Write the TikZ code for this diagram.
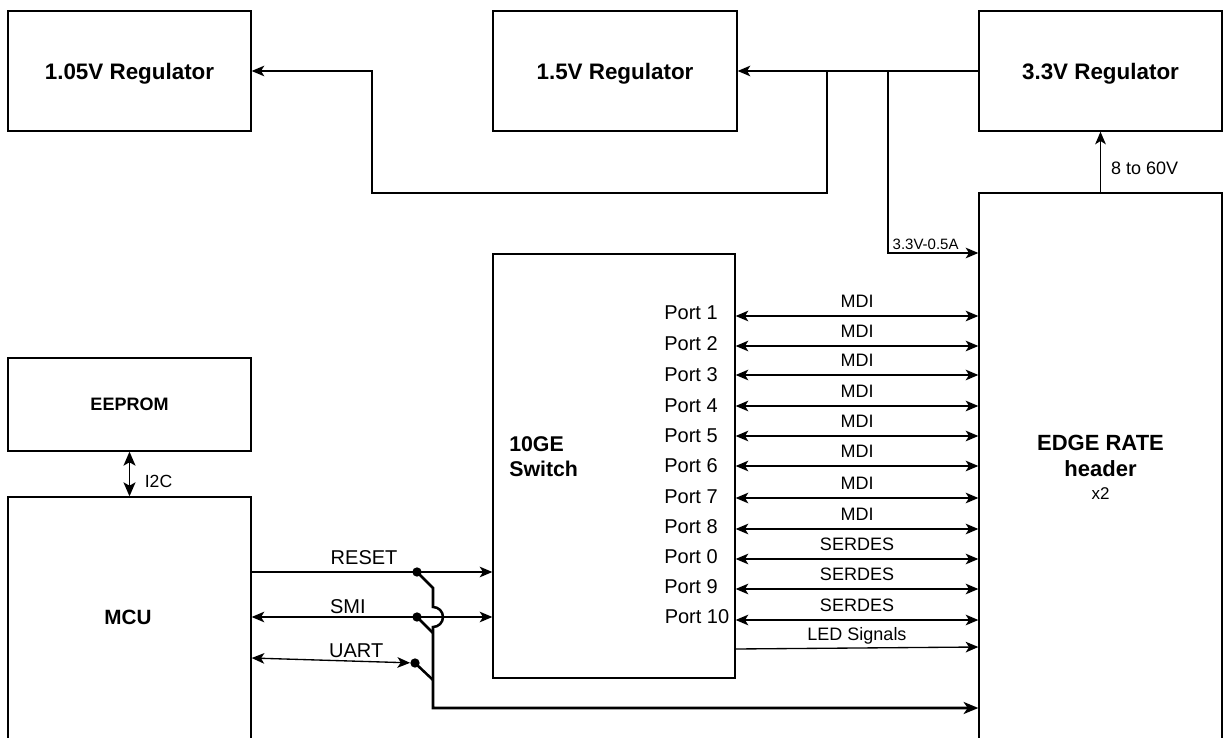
\documentclass[tikz,border=0pt]{standalone}
\usepackage{fontspec}
\setmainfont{Liberation Sans}
\usetikzlibrary{arrows.meta}
\begin{document}
\begin{tikzpicture}[x=0.75pt,y=-0.75pt,
  box/.style={draw, line width=1pt, inner sep=0pt},
  ttl/.style={font=\bfseries\fontsize{16.8}{20}\selectfont, text depth=0pt},
  conn/.style={line width=1pt},
  tip/.style={-{Stealth[length=9.5pt,width=8pt,inset=2.5pt]}},
  dtip/.style={{Stealth[length=9.5pt,width=8pt,inset=2.5pt]}-{Stealth[length=9.5pt,width=8pt,inset=2.5pt]}},
  port/.style={font=\fontsize{15}{18}\selectfont, inner sep=0pt},
  sig/.style={font=\fontsize{13.5}{16}\selectfont, anchor=base, inner sep=0pt, yshift=6.5pt},
  msig/.style={font=\fontsize{15}{18}\selectfont, anchor=base, inner sep=0pt},
  dot/.style={circle, fill, inner sep=0pt, minimum size=7pt},
  bus/.style={line width=1.9pt},
]
\useasboundingbox (0,0) rectangle (1225,738);
\fill[white] (0,0) rectangle (1225,738);

% boxes
\node[box, ttl, minimum width=182.25pt, minimum height=90pt] (r105) at (129.5,71) {1.05V Regulator};
\node[box, ttl, minimum width=183pt, minimum height=90pt] (r15) at (615,71) {1.5V Regulator};
\node[box, ttl, minimum width=182.25pt, minimum height=90pt] (r33) at (1100.5,71) {3.3V Regulator};
\node[box, minimum width=182.25pt, minimum height=411pt] (hdr) at (1100.5,467) {};
\node[box, minimum width=181.5pt, minimum height=318pt] (sw) at (614,466) {};
\node[box, font=\bfseries\fontsize{13.5}{16}\selectfont, text depth=0pt, minimum width=182.25pt, minimum height=69.75pt] (eep) at (129.5,404.5) {EEPROM};
\node[box, minimum width=182.25pt, minimum height=197.25pt] (mcu) at (129.5,628.5) {};

% box texts
\node[font=\bfseries\fontsize{16}{18.75}\selectfont, anchor=west, align=left, inner sep=0pt] (swt) at (509,457) {10GE\\Switch};
\node[font=\bfseries\fontsize{15.5}{18}\selectfont, inner sep=0pt] (mcut) at (128,617) {MCU};
\node[font=\bfseries\fontsize{16.5}{19.5}\selectfont, align=center, inner sep=0pt] (hdrt) at (1100.5,467) {EDGE RATE\\header\\[-2.25pt]{\mdseries\fontsize{12.75}{15}\selectfont x2}};

% power connections
\coordinate (jA) at (827,71);
\coordinate (jB) at (888,71);
\coordinate (lowL) at (372,193);
\coordinate (y0) at (0,253);
\draw[conn, tip] (r33.west) -- (r15.east);
\draw[conn, tip] (jA) |- (lowL) |- (r105.east);
\draw[conn, tip] (jB) |- (hdr.west |- y0)
  node[pos=0.5, anchor=base west, inner sep=0pt, xshift=3pt, yshift=3pt, font=\fontsize{11.25}{13}\selectfont] {3.3V-0.5A};
\draw[conn, tip] (hdr.north) -- (r33.south)
  node[pos=0.29, anchor=base west, inner sep=0pt, xshift=7.5pt, font=\fontsize{13.5}{16}\selectfont] {8 to 60V};

% I2C
\draw[conn, {Stealth[length=10.5pt,width=9pt,inset=2.5pt]}-{Stealth[length=10.5pt,width=9pt,inset=2.5pt]}] (eep.south) -- (mcu.north)
  node[pos=0.67, anchor=west, inner sep=0pt, xshift=11pt, font=\fontsize{13.2}{16}\selectfont] {I2C};

% ports
\node[port] (p1) at (691,313) {Port 1};
\node[port] (p2) at (691,344) {Port 2};
\node[port] (p3) at (691,375) {Port 3};
\node[port] (p4) at (691,406) {Port 4};
\node[port] (p5) at (691,436) {Port 5};
\node[port] (p6) at (691,466) {Port 6};
\node[port] (p7) at (691,497) {Port 7};
\node[port] (p8) at (691,527) {Port 8};
\node[port] (p0) at (691,557) {Port 0};
\node[port] (p9) at (691,587) {Port 9};
\node[port] (p10) at (697,617) {Port 10};

\coordinate (y1) at (0,316);
\coordinate (y2) at (0,346);
\coordinate (y3) at (0,375);
\coordinate (y4) at (0,406);
\coordinate (y5) at (0,436);
\coordinate (y6) at (0,466);
\coordinate (y7) at (0,498);
\coordinate (y8) at (0,529);
\coordinate (y9) at (0,559);
\coordinate (y10) at (0,589);
\coordinate (y11) at (0,620);
\coordinate (yLa) at (0,649);
\coordinate (yLb) at (0,647);

\draw[conn, dtip] (sw.east |- y1) -- (hdr.west |- y1) node[sig, midway] {MDI};
\draw[conn, dtip] (sw.east |- y2) -- (hdr.west |- y2) node[sig, midway] {MDI};
\draw[conn, dtip] (sw.east |- y3) -- (hdr.west |- y3) node[sig, midway] {MDI};
\draw[conn, dtip] (sw.east |- y4) -- (hdr.west |- y4) node[sig, midway] {MDI};
\draw[conn, dtip] (sw.east |- y5) -- (hdr.west |- y5) node[sig, midway] {MDI};
\draw[conn, dtip] (sw.east |- y6) -- (hdr.west |- y6) node[sig, midway] {MDI};
\draw[conn, dtip] (sw.east |- y7) -- (hdr.west |- y7) node[sig, midway] {MDI};
\draw[conn, dtip] (sw.east |- y8) -- (hdr.west |- y8) node[sig, midway] {MDI};
\draw[conn, dtip] (sw.east |- y9) -- (hdr.west |- y9) node[sig, midway] {SERDES};
\draw[conn, dtip] (sw.east |- y10) -- (hdr.west |- y10) node[sig, midway] {SERDES};
\draw[conn, dtip] (sw.east |- y11) -- (hdr.west |- y11) node[sig, midway] {SERDES};
\draw[conn, tip] (sw.east |- yLa) -- (hdr.west |- yLb) node[sig, midway, yshift=-1pt] {LED Signals};

% MCU signals
\coordinate (yR) at (0,572);
\coordinate (yS) at (0,617);
\coordinate (yU) at (0,658);
\node[dot] (dR) at (417,572) {};
\node[dot] (dS) at (417,617) {};
\node[dot] (dU) at (415,663) {};
\draw[conn, tip] (mcu.east |- yR) -- (sw.west |- yR) node[msig, pos=0.467, yshift=6pt] {RESET};
\draw[conn, dtip] (mcu.east |- yS) -- (sw.west |- yS) node[msig, pos=0.40, yshift=3pt] {SMI};
\draw[conn, dtip] (mcu.east |- yU) -- (dU) node[msig, pos=0.66, yshift=2.5pt] {UART};

% switch bus
\coordinate (b1) at (433,588);
\coordinate (b2) at (433,607);
\coordinate (b3) at (433,708);
\coordinate (bS) at (433,633);
\coordinate (bU) at (433,680);
\draw[bus, -{Stealth[length=11pt,width=9pt,inset=3pt]}] (dR.center) -- (b1) -- (b2) arc[start angle=90, end angle=-90, radius=7.5pt] -- (b3) -- (hdr.west |- b3);
\draw[bus] (dS.center) -- (bS);
\draw[bus] (dU.center) -- (bU);
\end{tikzpicture}
\end{document}
